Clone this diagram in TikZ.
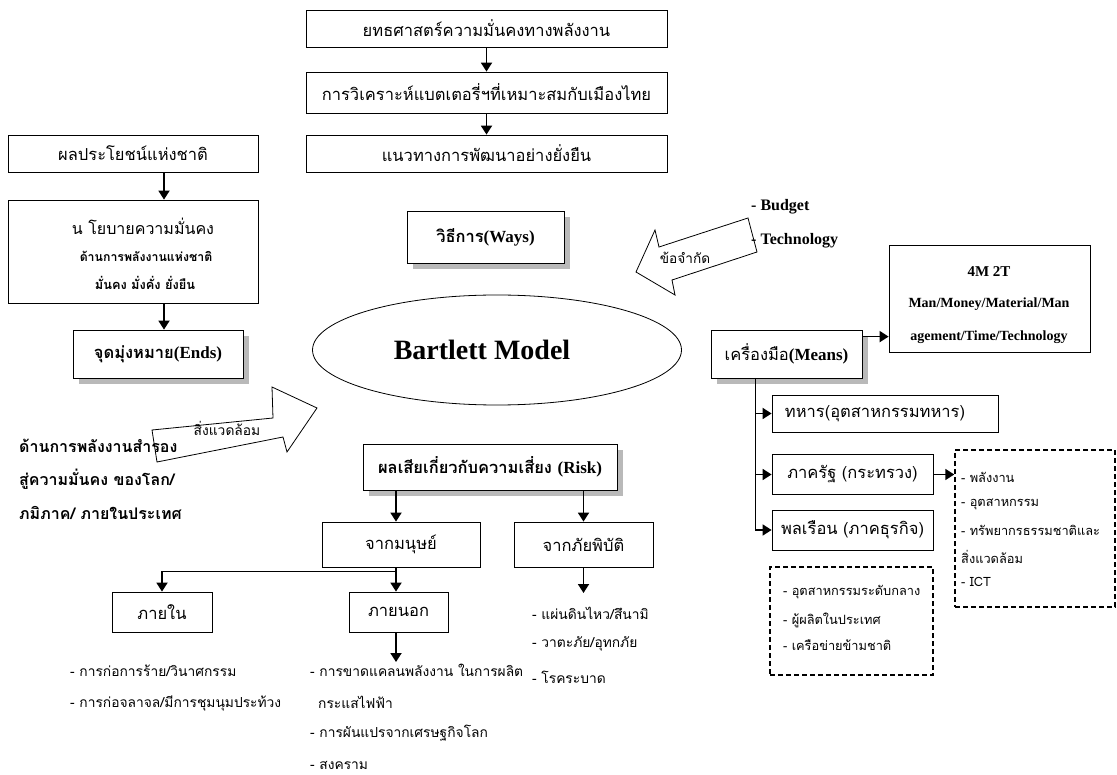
\documentclass[tikz,border=0pt]{standalone}
\usepackage{fontspec}
\setmainfont{Liberation Serif}
\newfontfamily\thaifont[Script=Thai]{Loma}
\usetikzlibrary{arrows.meta,shapes.geometric,shadows}
\newcommand\tf[1]{{\thaifont #1}}
\newcommand\latb[1]{\textrm{\bfseries\fontsize{17}{19}\selectfont #1}}
\begin{document}
\begin{tikzpicture}[x=1pt,y=-1pt,
  box/.style={draw, line width=0.8pt, inner sep=0pt, align=center, font=\thaifont\fontsize{16.5}{18}\selectfont},
  bbox/.style={box, font=\thaifont\bfseries\fontsize{16.5}{18}\selectfont},
  shad/.style={drop shadow={shadow xshift=6pt, shadow yshift=-6pt, fill=gray!55, opacity=1}},
  dbox/.style={draw, line width=1.5pt, dash pattern=on 5pt off 3pt, inner sep=0pt},
  arr/.style={line width=1.8pt, -{Triangle[length=9pt,width=11pt]}},
  thinl/.style={line width=1pt},
  lst/.style={anchor=west, inner sep=0pt, font=\thaifont\fontsize{13.8}{15}\selectfont},
  dlst/.style={lst, font=\thaifont\fontsize{12.8}{14}\selectfont},
  blst/.style={anchor=west, inner sep=0pt, font=\thaifont\bfseries\fontsize{16}{18}\selectfont},
  lat/.style={inner sep=0pt, font=\bfseries\fontsize{15}{17}\selectfont},
  barrow/.style={draw, line width=0.8pt, fill=white, line join=miter}
]
\fill[white] (0,0) rectangle (1117,775);
\useasboundingbox (0,0) rectangle (1117,775);

% top column
\node[box, minimum width=361pt, minimum height=37pt] (s1) at (486.5,28.5) {ยทธศาสตร์ความมั่นคงทางพลังงาน};
\node[box, minimum width=361pt, minimum height=41pt] (s2) at (486.5,92.5) {การวิเคราะห์แบตเตอรี่ฯที่เหมาะสมกับเมืองไทย};
\node[box, minimum width=361pt, minimum height=37pt] (s3) at (486.5,153.5) {แนวทางการพัฒนาอย่างยั่งยืน};
\draw[arr] (s1.south) -- (s2.north);
\draw[arr] (s2.south) -- (s3.north);

% left column
\node[box, minimum width=250pt, minimum height=37pt] (n1) at (133,153.5) {ผลประโยชน์แห่งชาติ};
\node[box, minimum width=250pt, minimum height=103pt] (n2) at (133,251.5) {};
\node[inner sep=0pt, font=\thaifont\fontsize{16}{18}\selectfont] (n2a) at (143,226) {น โยบายความมั่นคง};
\node[inner sep=0pt, font=\thaifont\bfseries\fontsize{12.3}{14}\selectfont] (n2b) at (146,256) {ด้านการพลังงานแห่งชาติ};
\node[inner sep=0pt, font=\thaifont\bfseries\fontsize{12.8}{14}\selectfont] (n2c) at (145,283) {มั่นคง มั่งคั่ง ยั่งยืน};
\node[bbox, shad, fill=white, minimum width=170pt, minimum height=48pt] (ends) at (158,354) {จุดมุ่งหมาย\latb{(Ends)}};
\draw[arr] (n1.south -| 164,0) -- (n2.north -| 164,0);
\draw[arr] (n2.south -| 164,0) -- (ends.north -| 164,0);

% ways
\node[bbox, shad, fill=white, minimum width=157pt, minimum height=52pt] (ways) at (485.5,237) {วิธีการ\latb{(Ways)}};

% ellipse
\node[draw, ellipse, line width=0.8pt, minimum width=369pt, minimum height=110pt, inner sep=0pt, font=\bfseries\fontsize{28}{30}\selectfont] (bm) at (497,350) {Bartlett Model\hspace*{30pt}};

% limitation arrow
\draw[barrow] (636,272) -- (655,230) -- (659,247) -- (748,218) -- (757,252) -- (672,280) -- (675,295) -- cycle;
\node[inner sep=0pt, font=\thaifont\fontsize{13.6}{15}\selectfont] (lim) at (685,258) {ข้อจำกัด};
\node[lat, anchor=west, font=\bfseries\fontsize{16}{18}\selectfont] (bud) at (751,207) {- Budget};
\node[lat, anchor=west, font=\bfseries\fontsize{16}{18}\selectfont] (tec) at (751,241) {- Technology};

% environment arrow
\draw[barrow] (152,430) -- (273,418) -- (272,387) -- (317,408) -- (287,452) -- (283,437) -- (157,462) -- cycle;
\node[inner sep=0pt, font=\thaifont\fontsize{13.8}{15}\selectfont] (env) at (227,428) {สิ่งแวดล้อม};

% left text
\node[blst] (l1) at (19,446) {ด้านการพลังงานสำรอง};
\node[blst] (l2) at (19,479) {สู่ความมั่นคง ของโลก/};
\node[blst] (l3) at (19,513) {ภมิภาค/ ภายในประเทศ};

% means
\node[box, shad, fill=white, minimum width=151pt, minimum height=48pt] (means) at (786.5,354) {เครื่องมือ\latb{(Means)}};
\node[draw, line width=0.8pt, minimum width=201pt, minimum height=107pt, inner sep=0pt] (m4) at (989.5,298.5) {};
\node[lat] (m4a) at (989,272) {4M 2T};
\node[lat, font=\bfseries\fontsize{14}{16}\selectfont] (m4b) at (989,304) {Man/Money/Material/Man};
\node[lat, font=\bfseries\fontsize{14}{16}\selectfont] (m4c) at (989,337) {agement/Time/Technology};
\draw[arr] ([yshift=-7pt]means.north east) -- ([yshift=-7pt]means.north east -| m4.west);

\node[box, minimum width=226pt, minimum height=37pt] (mil) at (885,413.5) {ทหาร(อุตสาหกรรมทหาร)\hspace*{20pt}};
\node[box, minimum width=161pt, minimum height=40pt] (gov) at (852.5,474.5) {ภาครัฐ (กระทรวง)};
\node[box, minimum width=161pt, minimum height=40pt] (civ) at (852.5,530) {พลเรือน (ภาคธุรกิจ)};
\coordinate (mv) at (755,378);
\draw[line width=1pt] (mv) -- (mv |- civ.west);
\draw[arr] (mv |- mil.west) -- (mil.west);
\draw[arr] (mv |- gov.west) -- (gov.west);
\draw[arr] (mv |- civ.west) -- (civ.west);

\node[dbox, minimum width=160pt, minimum height=157pt] (d1) at (1035,528.5) {};
\draw[arr] (gov.east) -- (gov.east -| d1.west);
\node[dlst] (d1a) at (961,477) {- พลังงาน};
\node[dlst] (d1b) at (961,504) {- อุตสาหกรรม};
\node[dlst] (d1c) at (961,530) {- ทรัพยากรธรรมชาติและ};
\node[dlst] (d1d) at (961,557) {สิ่งแวดล้อม};
\node[dlst] (d1e) at (961,582) {- ICT};

\node[dbox, minimum width=163pt, minimum height=108pt] (d2) at (851.5,621) {};
\node[dlst] (d2a) at (783,592) {- อุตสาหกรรมระดับกลาง};
\node[dlst] (d2b) at (783,620) {- ผู้ผลิตในประเทศ};
\node[dlst] (d2c) at (783,645) {- เครือข่ายข้ามชาติ};

% risk
\node[bbox, shad, fill=white, minimum width=254pt, minimum height=46pt] (risk) at (490,467) {ผลเสียเกี่ยวกับความเสี่ยง \latb{(Risk)}};
\node[box, minimum width=158pt, minimum height=45pt] (human) at (401,544.5) {จากมนุษย์};
\node[box, minimum width=139pt, minimum height=45pt] (dis) at (583.5,544.5) {จากภัยพิบัติ};
\draw[arr] (risk.south -| 396,0) -- (human.north -| 396,0);
\draw[arr] (risk.south -| dis.north) -- (dis.north);
\node[box, minimum width=100pt, minimum height=40pt] (inner) at (162,612) {ภายใน};
\node[box, minimum width=99pt, minimum height=40pt] (outer) at (398.5,612) {ภายนอก};
\coordinate (hj) at (396,571);
\draw[line width=1.8pt] (human.south -| hj) -- (hj);
\draw[thinl] (hj) -- (hj -| inner.north);
\draw[arr] (hj -| inner.north) -- (inner.north);
\draw[arr] (hj) -- (outer.north -| hj);
\coordinate (oe) at (396,662);
\draw[arr] (outer.south -| oe) -- (oe);
\coordinate (de) at (583.5,593);
\draw[arr] (dis.south) -- (de);

% lists
\node[lst] (i1) at (70,671) {- การก่อการร้าย/วินาศกรรม};
\node[lst] (i2) at (70,703) {- การก่อจลาจล/มีการชุมนุมประท้วง};
\node[lst] (o1) at (310,670) {- การขาดแคลนพลังงาน ในการผลิต};
\node[lst] (o2) at (318,702) {กระแสไฟฟ้า};
\node[lst] (o3) at (310,733) {- การผันแปรจากเศรษฐกิจโลก};
\node[lst] (o4) at (310,765) {- สงคราม};
\node[lst] (p1) at (532,613) {- แผ่นดินไหว/สึนามิ};
\node[lst] (p2) at (532,644) {- วาตะภัย/อุทกภัย};
\node[lst] (p3) at (532,677) {- โรคระบาด};
\end{tikzpicture}
\end{document}
